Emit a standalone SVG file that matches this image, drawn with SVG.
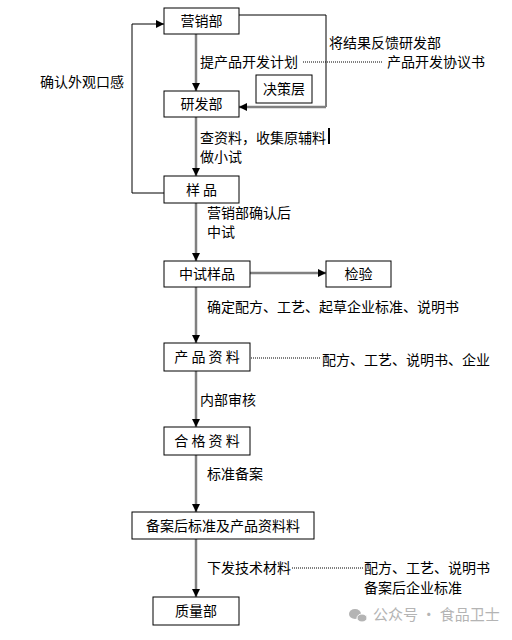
<svg xmlns="http://www.w3.org/2000/svg" width="512" height="640" viewBox="0 0 512 640">
<defs>
<marker id="ah" markerUnits="userSpaceOnUse" markerWidth="8" markerHeight="8" refX="8" refY="4" orient="auto">
<path d="M0,0 L8,4 L0,8 z" fill="#000"/>
</marker>
<style>
text{font-family:"Noto Sans CJK SC","Liberation Sans",sans-serif;font-size:14px;fill:#000}
.box{fill:#fff;stroke:#000;stroke-width:1}
.c{text-anchor:middle}
.flow{stroke:#808080;stroke-width:2.5;fill:none}
.blk{stroke:#000;stroke-width:1;fill:none}
.dot{stroke:#000;stroke-width:1;stroke-dasharray:1,1;fill:none}
.wm{fill:#b4b4b4;font-size:15px}
</style>
</defs>
<rect width="512" height="640" fill="#fff"/>
<g id="connectors">
<line class="flow" x1="196" y1="34" x2="196" y2="91" marker-end="url(#ah)"/>
<line class="flow" x1="196" y1="117" x2="196" y2="176" marker-end="url(#ah)"/>
<line class="flow" x1="196" y1="203" x2="196" y2="261" marker-end="url(#ah)"/>
<line class="flow" x1="196" y1="287" x2="196" y2="343" marker-end="url(#ah)"/>
<line class="flow" x1="196" y1="371" x2="196" y2="427" marker-end="url(#ah)"/>
<line class="flow" x1="196" y1="455" x2="196" y2="512" marker-end="url(#ah)"/>
<line class="flow" x1="196" y1="539" x2="196" y2="597" marker-end="url(#ah)"/>
<polyline class="blk" points="239,15 326,15 326,107"/>
<line class="flow" x1="326" y1="107" x2="239" y2="107" marker-end="url(#ah)"/>
<polyline class="blk" points="164,193 132,193 132,24 164,24" marker-end="url(#ah)"/>
<line class="flow" x1="250" y1="273" x2="326" y2="273" marker-end="url(#ah)"/>
<line class="dot" x1="303" y1="62" x2="382" y2="62"/>
<line class="dot" x1="251" y1="358" x2="320" y2="358"/>
<line class="dot" x1="292" y1="568" x2="364" y2="568"/>
</g>
<g id="n-yingxiao"><rect class="box" x="164" y="8" width="75" height="26"/><text class="c" x="201.5" y="26">营销部</text></g>
<g id="n-yanfa"><rect class="box" x="164" y="91" width="75" height="26"/><text class="c" x="201.5" y="109">研发部</text></g>
<g id="n-juece"><rect class="box" x="256" y="75" width="56" height="28"/><text class="c" x="284" y="94">决策层</text></g>
<g id="n-yangpin"><rect class="box" x="164" y="176" width="75" height="27"/><text class="c" x="201.5" y="195">样 品</text></g>
<g id="n-zhongshi"><rect class="box" x="164" y="261" width="86" height="26"/><text class="c" x="207" y="279">中试样品</text></g>
<g id="n-jianyan"><rect class="box" x="326" y="261" width="65" height="26"/><text class="c" x="358.5" y="279">检验</text></g>
<g id="n-chanpin"><rect class="box" x="164" y="343" width="86" height="28"/><text class="c" x="207" y="362">产 品 资 料</text></g>
<g id="n-hege"><rect class="box" x="164" y="427" width="86" height="28"/><text class="c" x="207" y="446">合 格 资 料</text></g>
<g id="n-beian"><rect class="box" x="132" y="512" width="182" height="27"/><text class="c" x="223" y="531">备案后标准及产品资料料</text></g>
<g id="n-zhiliang"><rect class="box" x="153" y="597" width="86" height="28"/><text class="c" x="196" y="616">质量部</text></g>
<g id="labels">
<text x="329" y="48">将结果反馈研发部</text>
<text x="200" y="67">提产品开发计划</text>
<text x="387" y="67">产品开发协议书</text>
<text x="40" y="87">确认外观口感</text>
<text x="200" y="143">查资料，收集原辅料</text>
<rect x="328" y="128" width="2" height="16" fill="#000"/>
<text x="200" y="162">做小试</text>
<text x="207" y="218">营销部确认后</text>
<text x="207" y="237">中试</text>
<text x="207" y="312">确定配方、工艺、起草企业标准、说明书</text>
<text x="322" y="365">配方、工艺、说明书、企业</text>
<text x="200" y="405">内部审核</text>
<text x="207" y="479">标准备案</text>
<text x="207" y="573">下发技术材料</text>
<text x="364" y="573">配方、工艺、说明书</text>
<text x="364" y="593">备案后企业标准</text>
</g>
<g id="watermark">
<ellipse cx="355" cy="614" rx="6" ry="5" fill="#b4b4b4"/>
<ellipse cx="362" cy="618" rx="5" ry="4" fill="#b4b4b4" stroke="#fff" stroke-width="1"/>
<text class="wm" x="373" y="620">公众号 · 食品卫士</text>
</g>
</svg>
